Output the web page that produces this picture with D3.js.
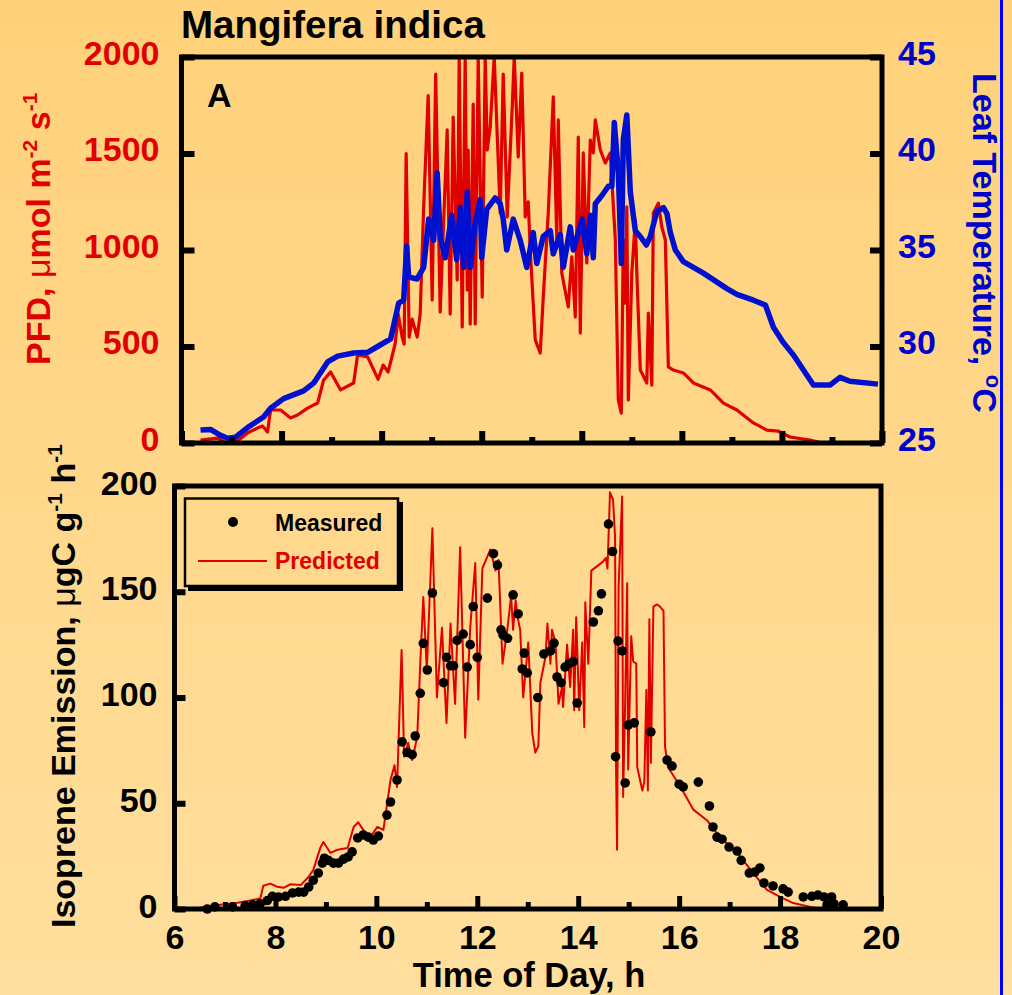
<!DOCTYPE html>
<html>
<head>
<meta charset="utf-8">
<script src="https://cdn.jsdelivr.net/npm/d3@7"></script>
<style>
  body { margin: 0; padding: 0; background: #FFD97F; }
  svg { display: block; }
  text { font-family: "Liberation Sans", Arial, sans-serif; font-weight: bold; }
</style>
</head>
<body>
<div id="chart-area"></div>
<script>
// Data (time of day in hours)
var pfdTime = [6.38,6.55,6.72,6.88,7.12,7.32,7.52,7.62,7.72,7.78,7.98,8.18,8.32,8.52,8.72,8.84,8.98,9.18,9.44,9.52,9.72,9.93,10.03,10.13,10.27,10.33,10.41,10.45,10.49,10.55,10.61,10.71,10.77,10.84,10.93,11.01,11.08,11.17,11.31,11.37,11.43,11.51,11.55,11.61,11.67,11.71,11.73,11.77,11.83,11.87,11.93,12.01,12.07,12.11,12.17,12.25,12.37,12.43,12.51,12.61,12.65,12.73,12.80,12.87,12.93,12.97,13.07,13.17,13.23,13.33,13.43,13.50,13.53,13.60,13.73,13.80,13.87,13.93,13.97,14.03,14.10,14.17,14.23,14.27,14.37,14.47,14.57,14.67,14.73,14.79,14.83,14.87,14.90,14.93,15.00,15.07,15.10,15.17,15.30,15.33,15.40,15.43,15.53,15.60,15.67,15.73,15.83,16.03,16.23,16.57,16.83,17.10,17.43,17.70,17.92,18.16,18.56,18.80]
var pfdValue = [15,20,25,2,10,52,78,88,57,171,171,130,145,181,207,326,368,275,311,456,446,330,404,368,513,668,549,513,1500,549,642,549,668,1223,1800,741,1912,679,1622,668,1689,845,2000,601,2000,793,1518,617,1756,617,2000,756,2000,1518,1637,2000,1192,1912,1171,1741,2000,1482,1917,1171,1250,1000,534,466,756,1192,1793,1052,1674,881,705,964,653,1585,570,1503,933,1570,1503,1674,1518,1451,1503,1052,223,155,1052,725,1223,223,881,1155,881,378,311,673,300,1192,1243,1119,1052,394,378,363,311,275,207,171,104,67,62,31,15,0]

var tempTime = [6.38,6.58,6.78,6.92,7.08,7.32,7.64,7.78,8.04,8.44,8.64,8.92,9.12,9.44,9.72,9.92,10.18,10.34,10.44,10.5,10.54,10.71,10.84,10.94,11.04,11.11,11.17,11.27,11.4,11.5,11.57,11.64,11.71,11.77,11.87,11.97,12.0,12.1,12.27,12.37,12.43,12.5,12.63,12.77,12.9,13.03,13.1,13.23,13.37,13.43,13.57,13.63,13.77,13.83,14.01,14.1,14.17,14.23,14.27,14.41,14.53,14.6,14.65,14.73,14.79,14.83,14.9,14.97,15.07,15.17,15.29,15.37,15.5,15.63,15.7,15.77,15.87,16.03,16.43,16.9,17.1,17.43,17.67,17.83,18.03,18.23,18.63,18.96,19.16,19.36,19.92]
var tempValue = [25.67,25.7,25.4,25.25,25.3,25.8,26.35,26.8,27.3,27.7,28.1,29.2,29.5,29.66,29.7,30.0,30.4,32.25,32.4,35.2,33.6,33.5,34.1,36.6,35.5,39.0,35.7,34.6,36.8,34.5,37.2,34.1,38.0,34.1,36.4,37.6,34.6,37.1,37.7,37.4,36.6,35.0,36.6,35.5,34.1,35.9,34.3,35.7,36.0,34.8,35.8,34.1,36.2,35.0,36.6,34.8,36.8,34.6,37.4,37.85,38.3,38.3,41.6,39.0,34.3,40.7,42.0,38.0,36.0,35.7,35.26,35.7,37.0,37.2,36.9,35.9,35.0,34.4,33.8,33.0,32.7,32.4,32.15,31.0,30.2,29.56,28.0,28.0,28.4,28.2,28.05]

var predTime = [6.2,6.46,6.91,7.25,7.5,7.7,7.76,7.9,8.04,8.16,8.3,8.5,8.65,8.75,8.89,8.95,9.09,9.23,9.43,9.55,9.64,9.74,9.88,10.02,10.14,10.28,10.36,10.41,10.5,10.55,10.63,10.71,10.81,10.87,10.93,11.0,11.11,11.2,11.3,11.39,11.47,11.56,11.66,11.76,11.86,11.96,12.02,12.1,12.26,12.36,12.42,12.5,12.6,12.67,12.71,12.76,12.8,12.85,12.91,13.01,13.09,13.15,13.21,13.25,13.35,13.39,13.45,13.48,13.55,13.61,13.68,13.7,13.78,13.84,13.9,13.92,13.96,14.02,14.08,14.12,14.14,14.2,14.26,14.37,14.48,14.55,14.58,14.63,14.69,14.73,14.75,14.77,14.8,14.87,14.89,14.93,14.97,14.99,15.05,15.09,15.15,15.17,15.27,15.31,15.35,15.38,15.41,15.44,15.49,15.56,15.62,15.69,15.72,15.78,16.02,16.28,16.55,16.81,17.15,17.47,17.74,18.0,18.26,18.6,18.8]
var predValue = [0,0.5,2,3,4,5,11,12,10.5,10,11.7,11.3,15,18.4,29,31.7,26.5,28,28.8,38.8,41,37.4,34,38.8,37.4,61,68,57.7,122.5,72,78.5,70.4,81.3,116,147.5,113,180,100,133,88,135,97,171,81,133,163.6,99,161,170,160,165,116,133,148,132,146,138,132,100,126,83,74,77,107,119,135,116,132,126,97,105,95.5,125,105,132,94,138,94,126,86,145,116,160,162,164,166,161,197,193.5,176,66,28,152,195,53,97,154,66,129,117,116,67,56,60,103.5,56,137,69,143,144,143,141,77,67,58,47,42,34,26.5,17,9,5.7,2.8,1,0]

var measTime = [6.65,6.8,7.15,7.4,7.55,7.7,7.84,7.94,8.06,8.2,8.34,8.46,8.56,8.66,8.75,8.85,8.93,8.97,9.05,9.15,9.25,9.35,9.44,9.52,9.63,9.74,9.84,9.94,10.04,10.21,10.28,10.41,10.51,10.61,10.71,10.77,10.87,10.93,11.01,11.11,11.33,11.39,11.47,11.53,11.6,11.72,11.8,11.86,11.92,12.0,12.2,12.32,12.4,12.47,12.51,12.6,12.71,12.81,12.89,12.93,12.99,13.2,13.32,13.45,13.52,13.58,13.66,13.74,13.82,13.9,13.98,14.3,14.4,14.46,14.6,14.68,14.74,14.79,14.87,14.93,14.99,15.11,15.44,15.76,15.86,16.0,16.08,16.38,16.6,16.67,16.75,16.85,16.99,17.15,17.23,17.39,17.5,17.6,17.68,17.86,18.06,18.16,18.46,18.63,18.75,18.87,19.02,18.93,19.07,19.25]
var measValue = [0,1,1,1.5,2,2.5,4,6,5.7,6,7.6,8,8,10.4,13.6,17,21.7,24,23,21.7,21.7,23.6,24.6,27,33.6,35,34,32.6,34.5,44.4,50.6,61,79,74,73,81.8,102,125.6,113,149.4,107,119,115,115,127,130,114.4,125,143,119,147,168,162.6,132,129.6,128,148.5,139.5,113.5,121,111.6,100,120.6,122,125.7,109.7,107,114.4,116,117,97.4,135.7,141,149,182,169,72,126.7,122,59.6,87,88,83.7,70.4,67.6,59,57.7,60,48.7,38.8,34,33,29.3,27.4,23,17,17.5,19.4,12.3,10.9,9.5,8,5.7,6,6.6,5.7,5.7,2,2.4,2]

var pfdTicks = [0,500,1000,1500,2000]
var tempTicks = [25,30,35,40,45]
var isoTicks = [0,50,100,150,200]
var majorHours = [6,8,10,12,14,16,18,20]
var minorHours = [7,9,11,13,15,17,19]

var RED = "#E00000"
var BLUE = "#0010D0"

var width = 1012
var height = 995

var svg = d3.select("#chart-area").append("svg")
    .attr("width", width)
    .attr("height", height)

// background gradient
var defs = svg.append("defs")
var grad = defs.append("linearGradient")
    .attr("id", "bg")
    .attr("x1", 0).attr("y1", 0).attr("x2", 0).attr("y2", 1)
grad.append("stop").attr("offset", "0%").attr("stop-color", "#FFD17A")
grad.append("stop").attr("offset", "100%").attr("stop-color", "#FFDF9E")

svg.append("rect")
    .attr("width", width)
    .attr("height", height)
    .attr("fill", "url(#bg)")

svg.append("line")
    .attr("x1", 1001.5).attr("x2", 1001.5)
    .attr("y1", 0).attr("y2", height)
    .attr("stroke", "#0000FF")
    .attr("stroke-width", 3)

// Scales
var xTop = d3.scaleLinear().domain([6, 20]).range([181.5, 882])
var yPfd = d3.scaleLinear().domain([0, 2000]).range([443, 57])
var yTemp = d3.scaleLinear().domain([25, 45]).range([443, 57])

var xBot = d3.scaleLinear().domain([6, 20]).range([174.5, 881])
var yIso = d3.scaleLinear().domain([0, 200]).range([909, 486])

var fmt = d3.format("d")

defs.append("clipPath").attr("id", "clipTop")
    .append("rect")
    .attr("x", xTop(6)).attr("y", yPfd(2000))
    .attr("width", xTop(20) - xTop(6)).attr("height", yPfd(0) - yPfd(2000))

defs.append("clipPath").attr("id", "clipBot")
    .append("rect")
    .attr("x", xBot(6)).attr("y", yIso(200))
    .attr("width", xBot(20) - xBot(6)).attr("height", yIso(0) - yIso(200))

function styleAxis(g, color, size, width) {
    g.select(".domain").remove()
    g.selectAll(".tick line").attr("stroke", "#000").attr("stroke-width", width)
    g.selectAll(".tick text")
        .attr("fill", color)
        .style("font-size", size + "px")
        .style("font-family", "'Liberation Sans', Arial, sans-serif")
        .style("font-weight", "bold")
}

// ---------- Top panel ----------
var pfdData = pfdTime.map(function(t, i) { return { t: t, v: pfdValue[i] } })
var tempData = tempTime.map(function(t, i) { return { t: t, v: tempValue[i] } })

var topGroup = svg.append("g").attr("clip-path", "url(#clipTop)")

topGroup.append("path")
    .datum(pfdData)
    .attr("fill", "none")
    .attr("stroke", RED)
    .attr("stroke-width", 3.2)
    .attr("stroke-linejoin", "round")
    .attr("d", d3.line().x(d => xTop(d.t)).y(d => yPfd(d.v)))

topGroup.append("path")
    .datum(tempData)
    .attr("fill", "none")
    .attr("stroke", BLUE)
    .attr("stroke-width", 5.5)
    .attr("stroke-linejoin", "round")
    .attr("d", d3.line().x(d => xTop(d.t)).y(d => yTemp(d.v)))

var pfdAxis = svg.append("g")
    .attr("transform", "translate(" + xTop(6) + ",0)")
    .call(d3.axisLeft(yPfd).tickValues(pfdTicks).tickFormat(fmt).tickSizeInner(-13).tickSizeOuter(0).tickPadding(22))
styleAxis(pfdAxis, RED, 34, 6)
pfdAxis.selectAll(".tick text").attr("dy", "0.22em")

var tempAxis = svg.append("g")
    .attr("transform", "translate(" + xTop(20) + ",0)")
    .call(d3.axisRight(yTemp).tickValues(tempTicks).tickFormat(fmt).tickSizeInner(-12).tickSizeOuter(0).tickPadding(16))
styleAxis(tempAxis, "#0000CC", 34, 6)
tempAxis.selectAll(".tick text").attr("dy", "0.22em")

var topMajor = svg.append("g")
    .attr("transform", "translate(0," + yPfd(0) + ")")
    .call(d3.axisBottom(xTop).tickValues(majorHours).tickSizeInner(-12).tickSizeOuter(0).tickFormat(""))
styleAxis(topMajor, "#000", 10, 6)

var topMinor = svg.append("g")
    .attr("transform", "translate(0," + yPfd(0) + ")")
    .call(d3.axisBottom(xTop).tickValues(minorHours).tickSizeInner(-6).tickSizeOuter(0).tickFormat(""))
styleAxis(topMinor, "#000", 10, 6)

svg.append("rect")
    .attr("x", xTop(6)).attr("y", yPfd(2000))
    .attr("width", xTop(20) - xTop(6)).attr("height", yPfd(0) - yPfd(2000))
    .attr("fill", "none")
    .attr("stroke", "#000")
    .attr("stroke-width", 5)

svg.append("text")
    .attr("x", 181).attr("y", 38)
    .style("font-size", "38.5px")
    .attr("fill", "#000")
    .text("Mangifera indica")

svg.append("text")
    .attr("x", 207).attr("y", 107)
    .style("font-size", "34px")
    .attr("fill", "#000")
    .text("A")

// PFD axis title
var pfdTitle = svg.append("text")
    .attr("transform", "translate(50,365) rotate(-90)")
    .attr("fill", RED)
    .style("font-size", "34px")
pfdTitle.append("tspan").text("PFD, ")
pfdTitle.append("tspan").style("font-weight", "normal").text("\u03bc")
pfdTitle.append("tspan").text("mol m")
pfdTitle.append("tspan").attr("dy", -13).style("font-size", "21px").text("-2")
pfdTitle.append("tspan").attr("dy", 13).text(" s")
pfdTitle.append("tspan").attr("dy", -13).style("font-size", "21px").text("-1")

// Leaf temperature axis title
var tempTitle = svg.append("text")
    .attr("transform", "translate(973,73) rotate(90)")
    .attr("fill", "#0000CC")
    .style("font-size", "34px")
tempTitle.append("tspan").text("Leaf Temperature, ")
tempTitle.append("tspan").attr("dy", -13).style("font-size", "22px").text("o")
tempTitle.append("tspan").attr("dy", 13).text("C")

// ---------- Bottom panel ----------
var predData = predTime.map(function(t, i) { return { t: t, v: predValue[i] } })
var measData = measTime.map(function(t, i) { return { t: t, v: measValue[i] } })

var botGroup = svg.append("g").attr("clip-path", "url(#clipBot)")

botGroup.append("path")
    .datum(predData)
    .attr("fill", "none")
    .attr("stroke", RED)
    .attr("stroke-width", 2)
    .attr("stroke-linejoin", "round")
    .attr("d", d3.line().x(d => xBot(d.t)).y(d => yIso(d.v)))

svg.append("g").selectAll("circle")
    .data(measData)
    .enter()
    .append("circle")
    .attr("cx", d => xBot(d.t))
    .attr("cy", d => yIso(d.v))
    .attr("r", 4.8)
    .attr("fill", "#000")

var isoAxis = svg.append("g")
    .attr("transform", "translate(" + xBot(6) + ",0)")
    .call(d3.axisLeft(yIso).tickValues(isoTicks).tickFormat(fmt).tickSizeInner(-11).tickSizeOuter(0).tickPadding(17))
styleAxis(isoAxis, "#000", 34, 6)
isoAxis.selectAll(".tick text").attr("dy", "0.24em")

var botMajor = svg.append("g")
    .attr("transform", "translate(0," + yIso(0) + ")")
    .call(d3.axisBottom(xBot).tickValues(majorHours).tickFormat(fmt).tickSizeInner(-13).tickSizeOuter(0).tickPadding(16))
styleAxis(botMajor, "#000", 34, 5)

var botMinor = svg.append("g")
    .attr("transform", "translate(0," + yIso(0) + ")")
    .call(d3.axisBottom(xBot).tickValues(minorHours).tickSizeInner(-7).tickSizeOuter(0).tickFormat(""))
styleAxis(botMinor, "#000", 10, 5)

svg.append("rect")
    .attr("x", xBot(6)).attr("y", yIso(200))
    .attr("width", xBot(20) - xBot(6)).attr("height", yIso(0) - yIso(200))
    .attr("fill", "none")
    .attr("stroke", "#000")
    .attr("stroke-width", 5)

svg.append("text")
    .attr("x", 529).attr("y", 987)
    .attr("text-anchor", "middle")
    .style("font-size", "34.5px")
    .attr("fill", "#000")
    .text("Time of Day, h")

var isoTitle = svg.append("text")
    .attr("transform", "translate(75,928) rotate(-90)")
    .attr("fill", "#000")
    .style("font-size", "34px")
isoTitle.append("tspan").text("Isoprene Emission, ")
isoTitle.append("tspan").style("font-weight", "normal").text("\u03bc")
isoTitle.append("tspan").text("gC g")
isoTitle.append("tspan").attr("dy", -13).style("font-size", "21px").text("-1")
isoTitle.append("tspan").attr("dy", 13).text(" h")
isoTitle.append("tspan").attr("dy", -13).style("font-size", "21px").text("-1")

// Legend box with drop shadow
var legend = svg.append("g")
legend.append("line")
    .attr("x1", 400.5).attr("x2", 400.5).attr("y1", 502).attr("y2", 591)
    .attr("stroke", "#000").attr("stroke-width", 5)
legend.append("line")
    .attr("x1", 188).attr("x2", 403).attr("y1", 588.5).attr("y2", 588.5)
    .attr("stroke", "#000").attr("stroke-width", 5)
legend.append("rect")
    .attr("x", 185).attr("y", 498.5)
    .attr("width", 213).attr("height", 87.5)
    .attr("fill", "none")
    .attr("stroke", "#000")
    .attr("stroke-width", 2.5)
legend.append("circle")
    .attr("cx", 233).attr("cy", 522).attr("r", 5)
    .attr("fill", "#000")
legend.append("text")
    .attr("x", 275).attr("y", 531)
    .style("font-size", "23px")
    .attr("fill", "#000")
    .text("Measured")
legend.append("line")
    .attr("x1", 198).attr("x2", 267).attr("y1", 561).attr("y2", 561)
    .attr("stroke", RED).attr("stroke-width", 2)
legend.append("text")
    .attr("x", 275).attr("y", 569)
    .style("font-size", "23px")
    .attr("fill", RED)
    .text("Predicted")
</script>
</body>
</html>
